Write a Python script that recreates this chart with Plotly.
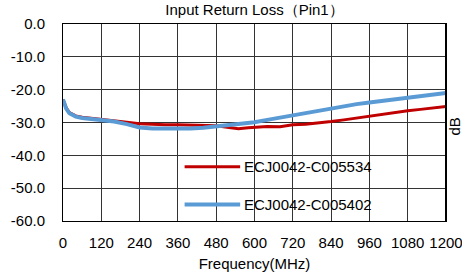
import plotly.graph_objects as go

freq_red = [0, 10, 20, 40, 60, 90, 120, 160, 200, 240, 280, 320, 360, 400, 440, 480, 520, 550, 580, 600,
            640, 680, 720, 760, 800, 840, 880, 920, 960, 1000, 1040, 1080, 1120, 1160, 1200]
rl_red = [-23.0, -25.5, -27.0, -28.0, -28.4, -28.7, -28.9, -29.3, -29.9, -30.4, -30.6, -30.7, -30.7, -30.8,
          -30.9, -31.0, -31.5, -31.9, -31.6, -31.4, -31.2, -31.3, -30.7, -30.5, -30.2, -29.7, -29.2, -28.6,
          -28.0, -27.5, -27.0, -26.4, -26.0, -25.6, -25.1]

freq_blue = [0, 10, 20, 40, 60, 90, 120, 160, 200, 240, 280, 320, 360, 400, 440, 480, 520, 550, 600,
             640, 680, 720, 760, 800, 840, 880, 920, 960, 1000, 1040, 1080, 1120, 1160, 1200]
rl_blue = [-23.0, -25.8, -27.2, -28.2, -28.6, -28.9, -29.2, -29.7, -30.5, -31.5, -31.8, -31.9, -31.9, -31.8,
           -31.6, -31.2, -30.9, -30.6, -29.9, -29.2, -28.5, -27.9, -27.3, -26.5, -25.6, -25.0, -24.4, -23.9,
           -23.4, -22.9, -22.4, -22.0, -21.5, -21.0]

series_names = ["ECJ0042-C005534", "ECJ0042-C005402"]
series_colors = ["#C00000", "#5B9BD5"]
x_ticks = [0, 120, 240, 360, 480, 600, 720, 840, 960, 1080, 1200]
y_ticks = [0, -10, -20, -30, -40, -50, -60]

FONT = "Arial, 'Liberation Sans', sans-serif"

fig = go.Figure()
fig.add_trace(go.Scatter(x=freq_red, y=rl_red, mode="lines", name=series_names[0],
                         line=dict(color=series_colors[0], width=3)))
fig.add_trace(go.Scatter(x=freq_blue, y=rl_blue, mode="lines", name=series_names[1],
                         line=dict(color=series_colors[1], width=4)))

# legend drawn manually to match long sample lines
legend_y = [-43.5, -55.0]
for i, (nm, col) in enumerate(zip(series_names, series_colors)):
    fig.add_shape(type="line", xref="x", yref="y", x0=381, x1=555, y0=legend_y[i], y1=legend_y[i],
                  line=dict(color=col, width=4 if i else 3))
    fig.add_annotation(x=560, y=legend_y[i], xref="x", yref="y", text=nm, showarrow=False,
                       xanchor="left", yanchor="middle", font=dict(size=15, color="#000", family=FONT))

fig.add_annotation(xref="paper", yref="paper", x=1.0, y=0.5, xanchor="center", yanchor="middle",
                   xshift=8, yshift=-4, text="dB", textangle=-90,
                   showarrow=False, font=dict(size=15, color="#000", family=FONT))

fig.update_layout(
    width=462, height=275,
    margin=dict(l=63, r=16, t=24, b=54, autoexpand=False),
    paper_bgcolor="white", plot_bgcolor="white",
    showlegend=False,
    font=dict(family=FONT, size=15, color="#000"),
    title=dict(text="Input Return Loss\uff08Pin1\uff09", x=0.5, xanchor="center", xref="paper",
               y=1, yref="container", yanchor="top", pad=dict(t=4),
               font=dict(size=15, family=FONT, color="#000")),
)
fig.update_xaxes(range=[0, 1200], tickvals=x_ticks, ticktext=[str(v) for v in x_ticks],
                 showgrid=True, gridcolor="#333", gridwidth=1,
                 showline=True, linecolor="#000", linewidth=1, mirror=True,
                 ticks="", ticklabelstandoff=8, zeroline=False, automargin=False,
                 ticklabeloverflow="allow",
                 title=dict(text="Frequency(MHz)", standoff=8, font=dict(size=15)),
                 tickfont=dict(size=15))
fig.update_yaxes(range=[-60, 0], tickvals=y_ticks, ticktext=[f"{v:.1f}" for v in y_ticks],
                 showgrid=True, gridcolor="#333", gridwidth=1,
                 showline=True, linecolor="#000", linewidth=1, mirror=True,
                 ticks="", ticklabelstandoff=14, zeroline=False, automargin=False,
                 ticklabeloverflow="allow",
                 tickfont=dict(size=15))
fig.add_shape(type="line", xref="paper", yref="paper", x0=1, x1=1, y0=0, y1=1,
              line=dict(color="#000", width=2))

fig.write_html("out.html", config={"displayModeBar": False},
               post_script="document.body.style.margin='0';")
